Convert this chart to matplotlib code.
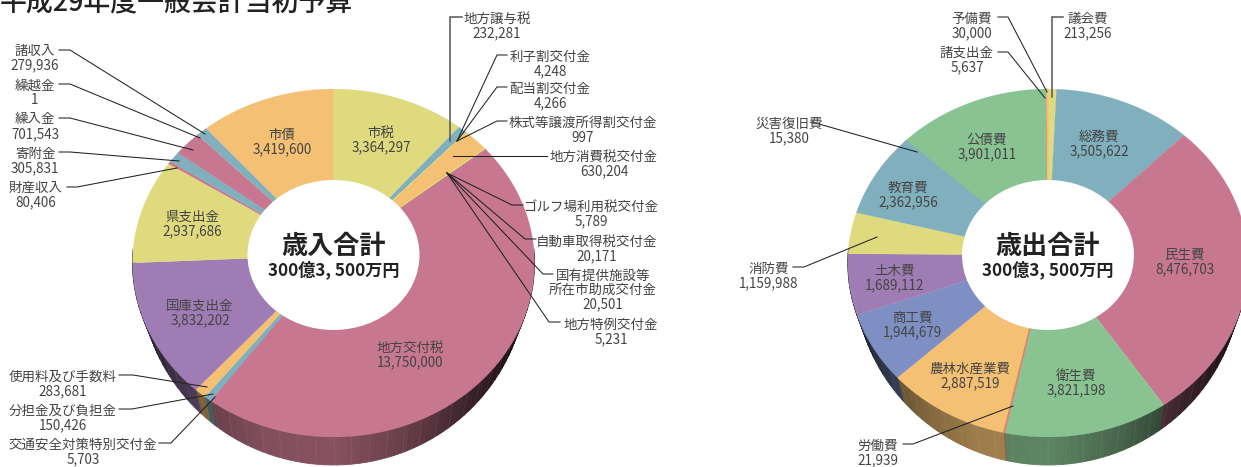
import numpy as np
import matplotlib
matplotlib.use("Agg")
import matplotlib.pyplot as plt
from matplotlib.patches import Ellipse
from matplotlib.colors import to_rgb

plt.rcParams['font.family'] = ['Noto Sans CJK JP', 'DejaVu Sans']

Y = '#E0DA7E'; O = '#F3C074'; P = '#C7778F'; T = '#80AFBE'; V = '#9F7DB4'; B = '#7E8FC3'; G = '#89C392'; R = '#E77F70'

rev_names = ['市税', '地方譲与税', '利子割交付金', '配当割交付金', '株式等譲渡所得割交付金', '地方消費税交付金',
             'ゴルフ場利用税交付金', '自動車取得税交付金', '国有提供施設等\n所在市助成交付金', '地方特例交付金',
             '地方交付税', '交通安全対策特別交付金', '分担金及び負担金', '使用料及び手数料', '国庫支出金',
             '県支出金', '財産収入', '寄附金', '繰入金', '繰越金', '諸収入', '市債']
rev_values = [3364297, 232281, 4248, 4266, 997, 630204, 5789, 20171, 20501, 5231, 13750000, 5703, 150426,
              283681, 3832202, 2937686, 80406, 305831, 701543, 1, 279936, 3419600]
rev_colors = [Y, T, P, Y, T, O, Y, Y, Y, P, P, T, T, O, V, Y, P, T, P, Y, T, O]

exp_names = ['議会費', '総務費', '民生費', '衛生費', '労働費', '農林水産業費', '商工費', '土木費', '消防費',
             '教育費', '災害復旧費', '公債費', '諸支出金', '予備費']
exp_values = [213256, 3505622, 8476703, 3821198, 21939, 2887519, 1944679, 1689112, 1159988, 2362956, 15380,
              3901011, 5637, 30000]
exp_colors = [Y, T, P, G, R, O, B, V, Y, T, T, G, R, O]

W, H = 1241, 467
fig = plt.figure(figsize=(W / 100, H / 100), dpi=100, facecolor='white')
ax = fig.add_axes([0, 0, 1, 1], facecolor='none')
ax.axis('off')

ANG = [90, 120, 140, 160, 180, 200, 220, 240, 260, 270]
SHD = [.08, .15, .30, .52, .68, .65, .50, .30, .15, .10]
APEX_Y, KP, AY = 255, 0.046, 173.6


def project(theta_deg, cx, bx):
    """Perspective view of the pie's top disc: slice edges meet at the apex above the ellipse centre."""
    th = np.radians(theta_deg)
    u, v = np.sin(th), np.cos(th)
    d = 1 + KP * v
    return cx + bx * u / d, APEX_Y - AY * v / d


def draw_pie(values, colors, cx, bx):
    frac = np.cumsum([0] + list(values)) / np.sum(values) * 360
    for s, e, c in zip(frac[:-1], frac[1:], colors):
        lo, hi = max(s, 88), min(e, 272)
        if hi <= lo:
            continue
        n = max(1, int(np.ceil((hi - lo) / 2.0)))
        ed = np.linspace(lo, hi, n + 1)
        rgb = np.array(to_rgb(c))
        for t0, t1 in zip(ed[:-1], ed[1:]):
            px, py = project(np.array([t0, t1]), cx, bx)
            qx = (px - cx) * 0.962
            qy = 275 + 190 * np.sqrt(np.clip(1 - (qx / 193.5) ** 2, 0, 1))
            f = np.interp((t0 + t1) / 2, ANG, SHD)
            ax.fill([px[0], px[1], cx + qx[1], cx + qx[0]], [py[0], py[1], qy[1], qy[0]],
                    color=tuple(rgb * f), lw=0.6)
    for t in np.arange(100, 262, 5.0):
        px, py = project(t, cx, bx)
        qx = (px - cx) * 0.962
        qy = 275 + 190 * np.sqrt(max(1 - (qx / 193.5) ** 2, 0))
        ax.plot([px, cx + qx], [py, qy], color='white', lw=0.4, alpha=0.10)
    slivers = []
    for s, e, c in zip(frac[:-1], frac[1:], colors):
        t = np.linspace(s, e, max(2, int((e - s) * 2) + 2))
        x, y = project(t, cx, bx)
        if 0.03 < e - s < 0.5:
            slivers.append((x, y, c))
        ax.fill(np.r_[cx, x], np.r_[APEX_Y, y], color=c, lw=0.15)
    for x, y, c in slivers:
        ax.fill(np.r_[cx, x], np.r_[APEX_Y, y], color=c, lw=0.7)
    ax.add_patch(Ellipse((cx, 255), 2 * 86, 2 * 75, color='white', lw=0))


draw_pie(rev_values, rev_colors, 333.5, 200.8)
draw_pie(exp_values, exp_colors, 1048, 200)
ax.set_xlim(0, W)
ax.set_ylim(H, 0)

TC = '#444444'
LC = '#222222'
FS = 9.7


def lab(x, y, s):
    ax.text(x, y + 0.5, s, ha='center', va='center', fontsize=FS, color=TC)


rev_pos = {
    '市税': (381, 132), '地方譲与税': (497, 18), '利子割交付金': (550, 56), '配当割交付金': (550, 88),
    '株式等譲渡所得割交付金': (583, 122), '地方消費税交付金': (604, 156), 'ゴルフ場利用税交付金': (591, 206),
    '自動車取得税交付金': (597, 241), '地方特例交付金': (611, 324), '地方交付税': (410, 347),
    '交通安全対策特別交付金': (83, 444), '分担金及び負担金': (63, 410), '使用料及び手数料': (63, 376),
    '国庫支出金': (200, 305), '県支出金': (192, 216), '財産収入': (36, 187), '寄附金': (35, 153),
    '繰入金': (35, 119), '繰越金': (35, 85), '諸収入': (35, 50), '市債': (282, 134),
}
exp_pos = {
    '議会費': (1088, 18), '総務費': (1099, 136), '民生費': (1185, 254), '衛生費': (1076, 375),
    '労働費': (878, 445), '農林水産業費': (970, 368), '商工費': (912, 317), '土木費': (895, 270),
    '消防費': (769, 268), '教育費': (908, 187), '災害復旧費': (789, 123), '公債費': (987, 139),
    '諸支出金': (967, 52), '予備費': (972, 18),
}

for names, values, pos in ((rev_names, rev_values, rev_pos), (exp_names, exp_values, exp_pos)):
    for n, v in zip(names, values):
        if '\n' in n:
            a_, b_ = n.split('\n')
            lab(603, 275, a_)
            lab(603, 289, b_)
            lab(603, 304, f'{v:,}')
            continue
        x, y = pos[n]
        lab(x, y, n)
        lab(x, y + 15, f'{v:,}')

leaders = [
    [(59, 50), (70, 50), (205, 134)], [(59, 84), (70, 84), (200, 138)], [(59, 118), (70, 118), (193, 150)],
    [(59, 152), (70, 152), (179, 161)], [(67, 187), (77, 187), (177, 168)],
    [(507, 55), (497, 55), (457, 141)], [(507, 87), (497, 87), (457, 141)], [(507, 121), (497, 121), (457, 141)],
    [(547, 156), (453, 156)], [(523, 205), (512, 205), (447, 173)], [(536, 239), (525, 239), (447, 173)],
    [(553, 274), (543, 274), (447, 173)], [(560, 322), (549, 322), (447, 173)],
    [(119, 375), (133, 375), (207, 387)], [(119, 409), (132, 409), (213, 394)], [(159, 443), (171, 443), (215, 397)],
    [(998, 17), (1008, 17), (1047, 92)], [(998, 52), (1008, 52), (1045, 98)],
    [(812, 122), (917, 152)], [(793, 267), (804, 267), (877, 237)], [(903, 444), (913, 444), (1013, 406)],
]
for L in leaders:
    xs, ys = zip(*L)
    ax.plot(xs, ys, color=LC, lw=0.75, solid_joinstyle='miter')
for L in ([(462, 17), (450, 17), (450, 141)], [(1063, 17), (1052, 17), (1052, 97)]):
    xs, ys = zip(*L)
    ax.plot(xs, ys, color='#555555', lw=1.1, solid_joinstyle='miter')

ax.text(0, 3, '平成29年度一般会計当初予算', fontsize=19.4, fontweight='medium', color='#222222', ha='left', va='center')
for cx, t in ((333.5, '歳入合計'), (1048, '歳出合計')):
    ax.text(cx, 246, t, fontsize=18.8, fontweight='bold', color='#222222', ha='center', va='center')
    ax.text(cx, 270, '300億3, 500万円', fontsize=12.3, fontweight='bold', color='#222222', ha='center', va='center')

fig.savefig('out.png', dpi=100)
